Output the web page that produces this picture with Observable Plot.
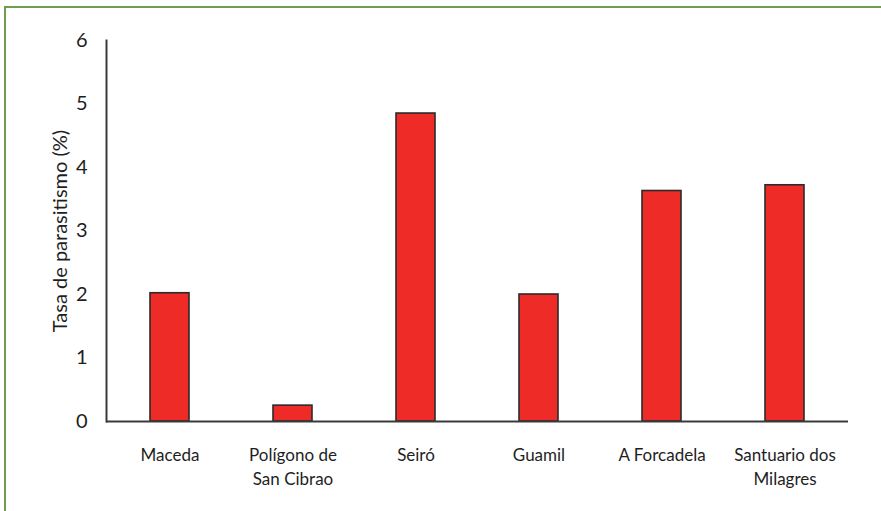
<!DOCTYPE html>
<html>
<head>
<meta charset="utf-8">
<script src="https://cdn.jsdelivr.net/npm/d3@7"></script>
<script src="https://cdn.jsdelivr.net/npm/@observablehq/plot@0.6"></script>
<style>
  html, body { margin: 0; padding: 0; background: #fff; }
  #wrap { position: relative; width: 881px; height: 511px; overflow: hidden; }
  #box { position: absolute; left: 4px; top: 6px; right: -10px; bottom: -10px;
         border-left: 2px solid #6f9c4f; border-top: 2px solid #6f9c4f; pointer-events: none; }
  #chart { position: absolute; left: 0; top: 0; }
</style>
</head>
<body>
<div id="wrap">
  <div id="chart"></div>
  <div id="box"></div>
</div>
<script>
// Parasitism rate by sampling site
const sites = ["Maceda", "Polígono de San Cibrao", "Seiró", "Guamil", "A Forcadela", "Santuario dos Milagres"];
const siteLabels = ["Maceda", "Polígono de\nSan Cibrao", "Seiró", "Guamil", "A Forcadela", "Santuario dos\nMilagres"];
const rates = [2.02, 0.25, 4.85, 2.0, 3.63, 3.72];
const yTicks = [0, 1, 2, 3, 4, 5, 6];

const data = sites.map((site, i) => ({site, rate: rates[i]}));
const labelOf = new Map(sites.map((s, i) => [s, siteLabels[i]]));

const chart = Plot.plot({
  width: 881,
  height: 511,
  marginLeft: 106,
  marginRight: 33,
  marginTop: 40,
  marginBottom: 90,
  style: {fontFamily: "Lato, 'Open Sans', sans-serif", fontSize: "17px", color: "#1e1e1e", background: "transparent"},
  x: {domain: sites, paddingInner: 0.68, paddingOuter: 0.34},
  y: {domain: [0, 6]},
  marks: [
    Plot.barY(data, {x: "site", y: "rate", fill: "#ee2b26", stroke: "#2b2b2b", strokeWidth: 1.6}),
    Plot.frame({anchor: "left", stroke: "#3a3a3a", strokeWidth: 2}),
    Plot.ruleY([0], {stroke: "#3a3a3a", strokeWidth: 2}),
    Plot.axisY({ticks: yTicks, tickFormat: "d", tickSize: 0, tickPadding: 19, label: "Tasa de parasitismo (%)",
                labelAnchor: "center", labelArrow: "none", labelOffset: 54, fontSize: 20}),
    Plot.axisX({tickSize: 0, tickPadding: 22, label: null, tickFormat: d => labelOf.get(d), lineHeight: 1.42})
  ]
});
document.getElementById("chart").appendChild(chart);
</script>
</body>
</html>
